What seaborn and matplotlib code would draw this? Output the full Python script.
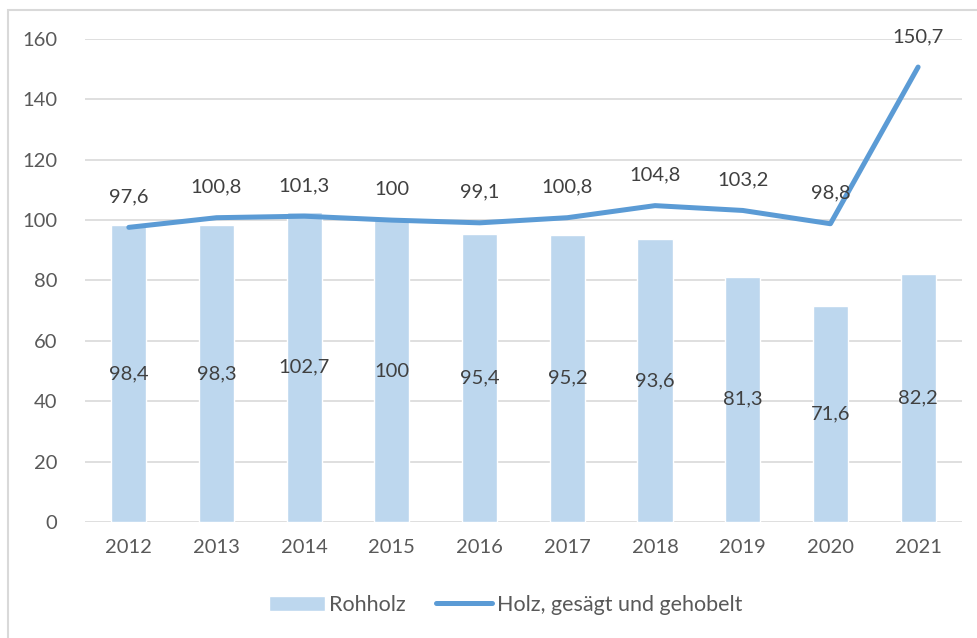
import matplotlib
matplotlib.use("Agg")
import matplotlib.pyplot as plt
import seaborn as sns
import numpy as np
from matplotlib.patches import Rectangle

years = ["2012", "2013", "2014", "2015", "2016", "2017", "2018", "2019", "2020", "2021"]
rohholz = [98.4, 98.3, 102.7, 100, 95.4, 95.2, 93.6, 81.3, 71.6, 82.2]
holz_gesaegt = [97.6, 100.8, 101.3, 100, 99.1, 100.8, 104.8, 103.2, 98.8, 150.7]

bar_color = "#BDD7EE"
line_color = "#5B9BD5"
text_color = "#595959"

sns.set_style("white")
plt.rcParams["font.family"] = ["Lato", "DejaVu Sans"]


def fmt(v):
    s = f"{v:.1f}".replace(".", ",")
    return s[:-2] if s.endswith(",0") else s


fig = plt.figure(figsize=(9.78, 6.38), dpi=100)
ax = fig.add_axes([0.0869, 0.1818, 0.8967, 0.7571])

sns.barplot(x=years, y=rohholz, color=bar_color, saturation=1, width=0.4, ax=ax,
            label="Rohholz", zorder=2)
sns.lineplot(x=np.arange(len(years)), y=holz_gesaegt, color=line_color,
             linewidth=3.6, ax=ax, label="Holz, gesägt und gehobelt", zorder=3,
             solid_capstyle="round")

for i, v in enumerate(rohholz):
    ax.text(i, v / 2, fmt(v), ha="center", va="center", fontsize=14.5,
            color="#404040", zorder=4)
for i, v in enumerate(holz_gesaegt):
    ax.annotate(fmt(v), (i, v), textcoords="offset points", xytext=(0, 22),
                ha="center", va="center", fontsize=14.5, color="#404040", zorder=4)

ax.set_ylim(0, 160)
ax.set_xlim(-0.5, len(years) - 0.5)
ax.set_yticks(range(0, 161, 20))
ax.yaxis.grid(True, color="#D9D9D9", linewidth=1.2, zorder=0)
ax.set_axisbelow(True)
for s in ax.spines.values():
    s.set_visible(False)
ax.tick_params(axis="both", length=0, labelsize=14.5, labelcolor=text_color, pad=12)
ax.tick_params(axis="y", pad=20)
ax.set_xlabel("")
ax.set_ylabel("")

ax.get_legend().remove()
handles, labels = ax.get_legend_handles_labels()
order = [labels.index("Rohholz"), labels.index("Holz, gesägt und gehobelt")]
fig.legend([handles[k] for k in order], [labels[k] for k in order],
           loc="center", bbox_to_anchor=(0.517, 0.052), ncol=2,
           frameon=False, fontsize=15.5, handlelength=2.6, handletextpad=0.2,
           columnspacing=1.4, labelcolor=text_color)

fig.patches.append(Rectangle((8 / 978, -0.1), 1.2, 1.1 - 10 / 638,
                             transform=fig.transFigure, fill=False,
                             edgecolor="#D9D9D9", linewidth=1.5))

fig.savefig("out.png", dpi=100)
